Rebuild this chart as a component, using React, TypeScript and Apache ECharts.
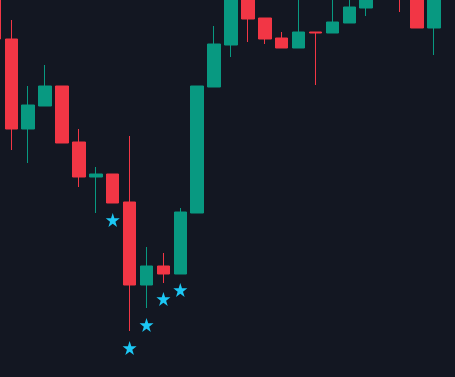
import React, { useEffect, useRef } from "react";
import * as echarts from "echarts";

// Candles: [open, close, low, high]
const categories = [
  "D0", "D1", "D2", "D3", "D4", "D5", "D6", "D7", "D8", "D9",
  "D10", "D11", "D12", "D13", "D14", "D15", "D16", "D17", "D18", "D19",
  "D20", "D21", "D22", "D23", "D24", "D25", "D26", "D27", "D28",
];

const candles: number[][] = [
  [140.7, 133.8, 133.0, 141.5],
  [133.8, 124.8, 122.7, 135.7],
  [124.8, 127.2, 121.4, 129.1],
  [127.1, 129.1, 127.1, 131.2],
  [129.1, 123.4, 123.4, 129.1],
  [123.5, 120.0, 119.0, 124.8],
  [120.0, 120.3, 116.4, 121.0],
  [120.3, 117.4, 117.4, 120.3],
  [117.5, 109.2, 104.6, 124.1],
  [109.2, 111.1, 106.9, 113.0],
  [111.1, 110.3, 109.4, 112.4],
  [110.3, 116.5, 110.3, 116.9],
  [116.4, 129.1, 116.4, 129.1],
  [129.0, 133.3, 129.0, 135.1],
  [133.2, 138.7, 132.0, 139.5],
  [139.0, 135.8, 133.5, 139.8],
  [135.9, 133.8, 133.3, 135.9],
  [133.9, 132.9, 132.9, 134.5],
  [132.9, 134.5, 132.9, 138.5],
  [134.5, 134.4, 129.2, 134.5],
  [134.4, 135.5, 134.4, 138.3],
  [135.4, 137.0, 135.4, 139.0],
  [136.9, 139.2, 136.1, 140.0],
  [139.0, 140.8, 138.2, 141.5],
  [140.5, 138.6, 136.5, 141.2],
  [140.2, 134.9, 134.9, 141.0],
  [134.9, 139.5, 132.2, 140.5],
  [139.5, 141.0, 138.5, 142.0],
  [140.0, 141.5, 139.0, 142.5],
];

// Signal markers (stars) below selected candles
const signals: (number | null)[] = [
  null, null, null, null, null, null, null, 115.7, 102.9, 105.2,
  107.8, 108.7, null, null, null, null, null, null, null, null,
  null, null, null, null, null, null, null, null, null,
];

const STAR =
  "path://M50,0 L61.8,35.3 L99,35.3 L68.8,57.1 L80.3,92.4 L50,70.6 L19.7,92.4 L31.2,57.1 L1,35.3 L38.2,35.3 Z";

export default function App() {
  const ref = useRef<HTMLDivElement>(null);
  useEffect(() => {
    if (!ref.current) return;
    const chart = echarts.init(ref.current, undefined, { renderer: "svg" });
    chart.setOption({
      animation: false,
      backgroundColor: "#131722",
      grid: { left: 0, right: 0, top: 0, bottom: 0 },
      xAxis: {
        type: "category",
        data: categories,
        boundaryGap: true,
        show: false,
      },
      yAxis: {
        type: "value",
        min: 100,
        max: 137.7,
        show: false,
        splitLine: { show: false },
      },
      series: [
        {
          type: "candlestick",
          data: candles,
          barWidth: 13,
          itemStyle: {
            color: "#089981",
            color0: "#f23645",
            borderColor: "#089981",
            borderColor0: "#f23645",
            borderWidth: 1,
          },
        },
        {
          type: "scatter",
          data: signals,
          symbol: STAR,
          symbolSize: 14,
          itemStyle: { color: "#1cc8f5", opacity: 1 },
          z: 5,
        },
      ],
    });
    return () => chart.dispose();
  }, []);
  return (
    <div style={{ position: "fixed", left: 0, top: 0, width: 455, height: 377, overflow: "hidden", background: "#131722" }}>
      <div
        ref={ref}
        style={{ position: "absolute", left: -14, top: 0, width: 490, height: 377 }}
      />
    </div>
  );
}
